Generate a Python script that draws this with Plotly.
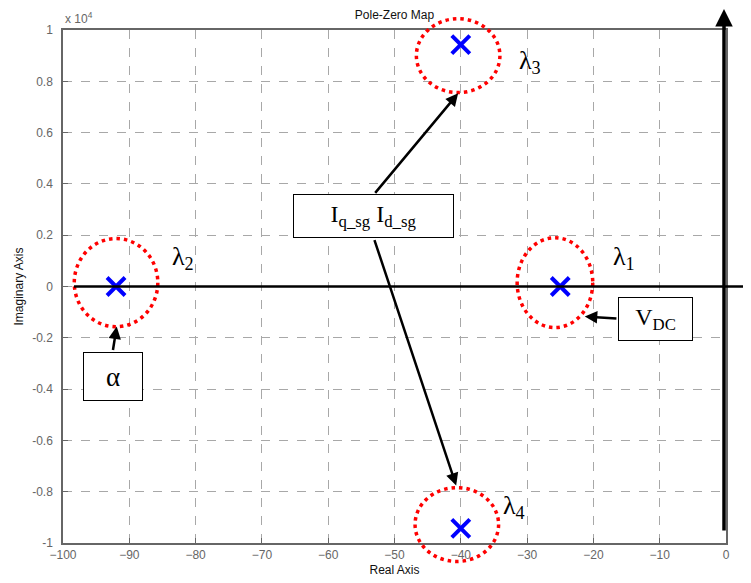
import plotly.graph_objects as go

# ---- data ----
pole_names = ["λ1", "λ2", "λ3", "λ4"]
pole_re = [-25, -92, -40, -40]
pole_im = [0, 0, 9430, -9430]

# highlight rings around poles (centre, radii in data units)
ring_cx = [-25.8, -92.0, -40.4, -40.6]
ring_cy = [150, 150, 9000, -9280]
ring_rx = [5.7, 6.3, 6.3, 6.3]
ring_ry = [1750, 1720, 1440, 1440]

# label offsets (pixels) for lambda labels
lab_dx = [64, 67, 69, 53]
lab_dy = [29, 29, -17, 21]

x_ticks = list(range(-100, 1, 10))
y_tickvals = [-10000, -8000, -6000, -4000, -2000, 0, 2000, 4000, 6000, 8000, 10000]
y_ticktext = ["-1", "-0.8", "-0.6", "-0.4", "-0.2", "0", "0.2", "0.4", "0.6", "0.8", "1"]

# boxes: text, centre (data), size (px)
box_text = ["I<sub>q_sg</sub> I<sub>d_sg</sub>", "V<sub>DC</sub>", "α"]
box_x = [-53.2, -10.6, -92.5]
box_y = [2730, -1250, -3490]
box_w = [161, 75, 60]
box_h = [44, 44, 49]
box_size = [24, 24, 27]

# arrows: head (x,y) and tail (ax,ay), data units
arr_x = [-40.4, -40.7, -21.3, -91.9]
arr_y = [7530, -7760, -1170, -1560]
arr_ax = [-53.1, -53.1, -16.3, -92.5]
arr_ay = [3590, 1870, -1250, -2535]

X0, X1 = -100, 0
Y0, Y1 = -10000, 10000

# page body has an 8px margin; the figure is sized to fit the window
OFF = 8
W, H = 751 - OFF, 583 - OFF


def px(x):
    return (x - X0) / (X1 - X0)


def py(y):
    return (y - Y0) / (Y1 - Y0)


fig = go.Figure()
fig.add_trace(go.Scatter(
    x=pole_re, y=pole_im, mode="markers", cliponaxis=False,
    marker=dict(symbol="x-thin", size=18, color="#0000ff",
                line=dict(width=4, color="#0000ff")),
    showlegend=False, hoverinfo="skip"))

shapes = []
for cx, cy, rx, ry in zip(ring_cx, ring_cy, ring_rx, ring_ry):
    shapes.append(dict(type="circle", xref="paper", yref="paper",
                       x0=px(cx - rx), x1=px(cx + rx), y0=py(cy - ry), y1=py(cy + ry),
                       line=dict(color="#ff0000", width=3.5, dash="3.5px,4px"),
                       layer="above"))
# real axis line
shapes.append(dict(type="line", xref="paper", yref="paper",
                   x0=0.0166, x1=1.05, y0=py(0), y1=py(0),
                   line=dict(color="black", width=2.5), layer="above"))

annotations = []
serif = "Liberation Serif"
for name, x, y, dx, dy in zip(pole_names, pole_re, pole_im, lab_dx, lab_dy):
    annotations.append(dict(x=x, y=y, xref="x", yref="y", showarrow=False,
                            text=name[0] + "<sub>" + name[1:] + "</sub>",
                            xshift=dx, yshift=dy,
                            font=dict(family=serif, size=26, color="black")))
for x, y, axx, ayy in zip(arr_x, arr_y, arr_ax, arr_ay):
    annotations.append(dict(x=x, y=y, ax=axx, ay=ayy, xref="x", yref="y",
                            axref="x", ayref="y", text="", showarrow=True,
                            arrowhead=2, arrowsize=1, arrowwidth=2.5,
                            arrowcolor="black", standoff=0, startstandoff=0))
for t, x, y, w, h, s in zip(box_text, box_x, box_y, box_w, box_h, box_size):
    annotations.append(dict(x=x, y=y, xref="x", yref="y", showarrow=False,
                            text=t, width=w - 4, height=h - 4, borderpad=1,
                            bordercolor="black", borderwidth=1, bgcolor="white",
                            valign="middle", align="center",
                            font=dict(family=serif, size=s, color="black")))
# imaginary axis arrow
annotations.append(dict(x=0.997, y=1.043, xref="paper", yref="paper",
                        ax=0, ay=524, axref="pixel", ayref="pixel", text="",
                        showarrow=True, arrowhead=2, arrowsize=1, arrowwidth=3.5,
                        arrowcolor="black", standoff=0))
# exponent label
annotations.append(dict(x=0, y=1, xref="paper", yref="paper", xanchor="left",
                        yanchor="bottom", yshift=2, showarrow=False,
                        text="x 10<sup>4</sup>",
                        font=dict(family="Liberation Sans", size=12, color="#666")))

axis_common = dict(showgrid=True, griddash="dash", gridcolor="#a8a8a8", gridwidth=1,
                   showline=True, linecolor="#666", linewidth=1.5, mirror=True,
                   ticks="inside", ticklen=5, tickcolor="#666", zeroline=False,
                   automargin=False,
                   tickfont=dict(family="Liberation Sans", size=12, color="#666"))

fig.update_layout(
    width=W, height=H, paper_bgcolor="white", plot_bgcolor="white",
    margin=dict(l=63 - OFF, r=25, t=30 - OFF, b=40),
    title=dict(text="Pole-Zero Map", x=0.5, xref="paper", y=1 - (15 - OFF) / H,
               yanchor="middle", font=dict(family="Liberation Sans", size=12, color="#111")),
    xaxis=dict(range=[X0, X1], tickvals=x_ticks, ticklabelstandoff=0,
               title=dict(text="Real Axis", standoff=4,
                          font=dict(family="Liberation Sans", size=12, color="#111")),
               **axis_common),
    yaxis=dict(range=[Y0, Y1], tickvals=y_tickvals, ticktext=y_ticktext,
               ticklabelstandoff=6,
               title=dict(text="Imaginary Axis", standoff=6,
                          font=dict(family="Liberation Sans", size=12, color="#111")),
               **axis_common),
    shapes=shapes, annotations=annotations,
)

fig.write_html("out.html")
